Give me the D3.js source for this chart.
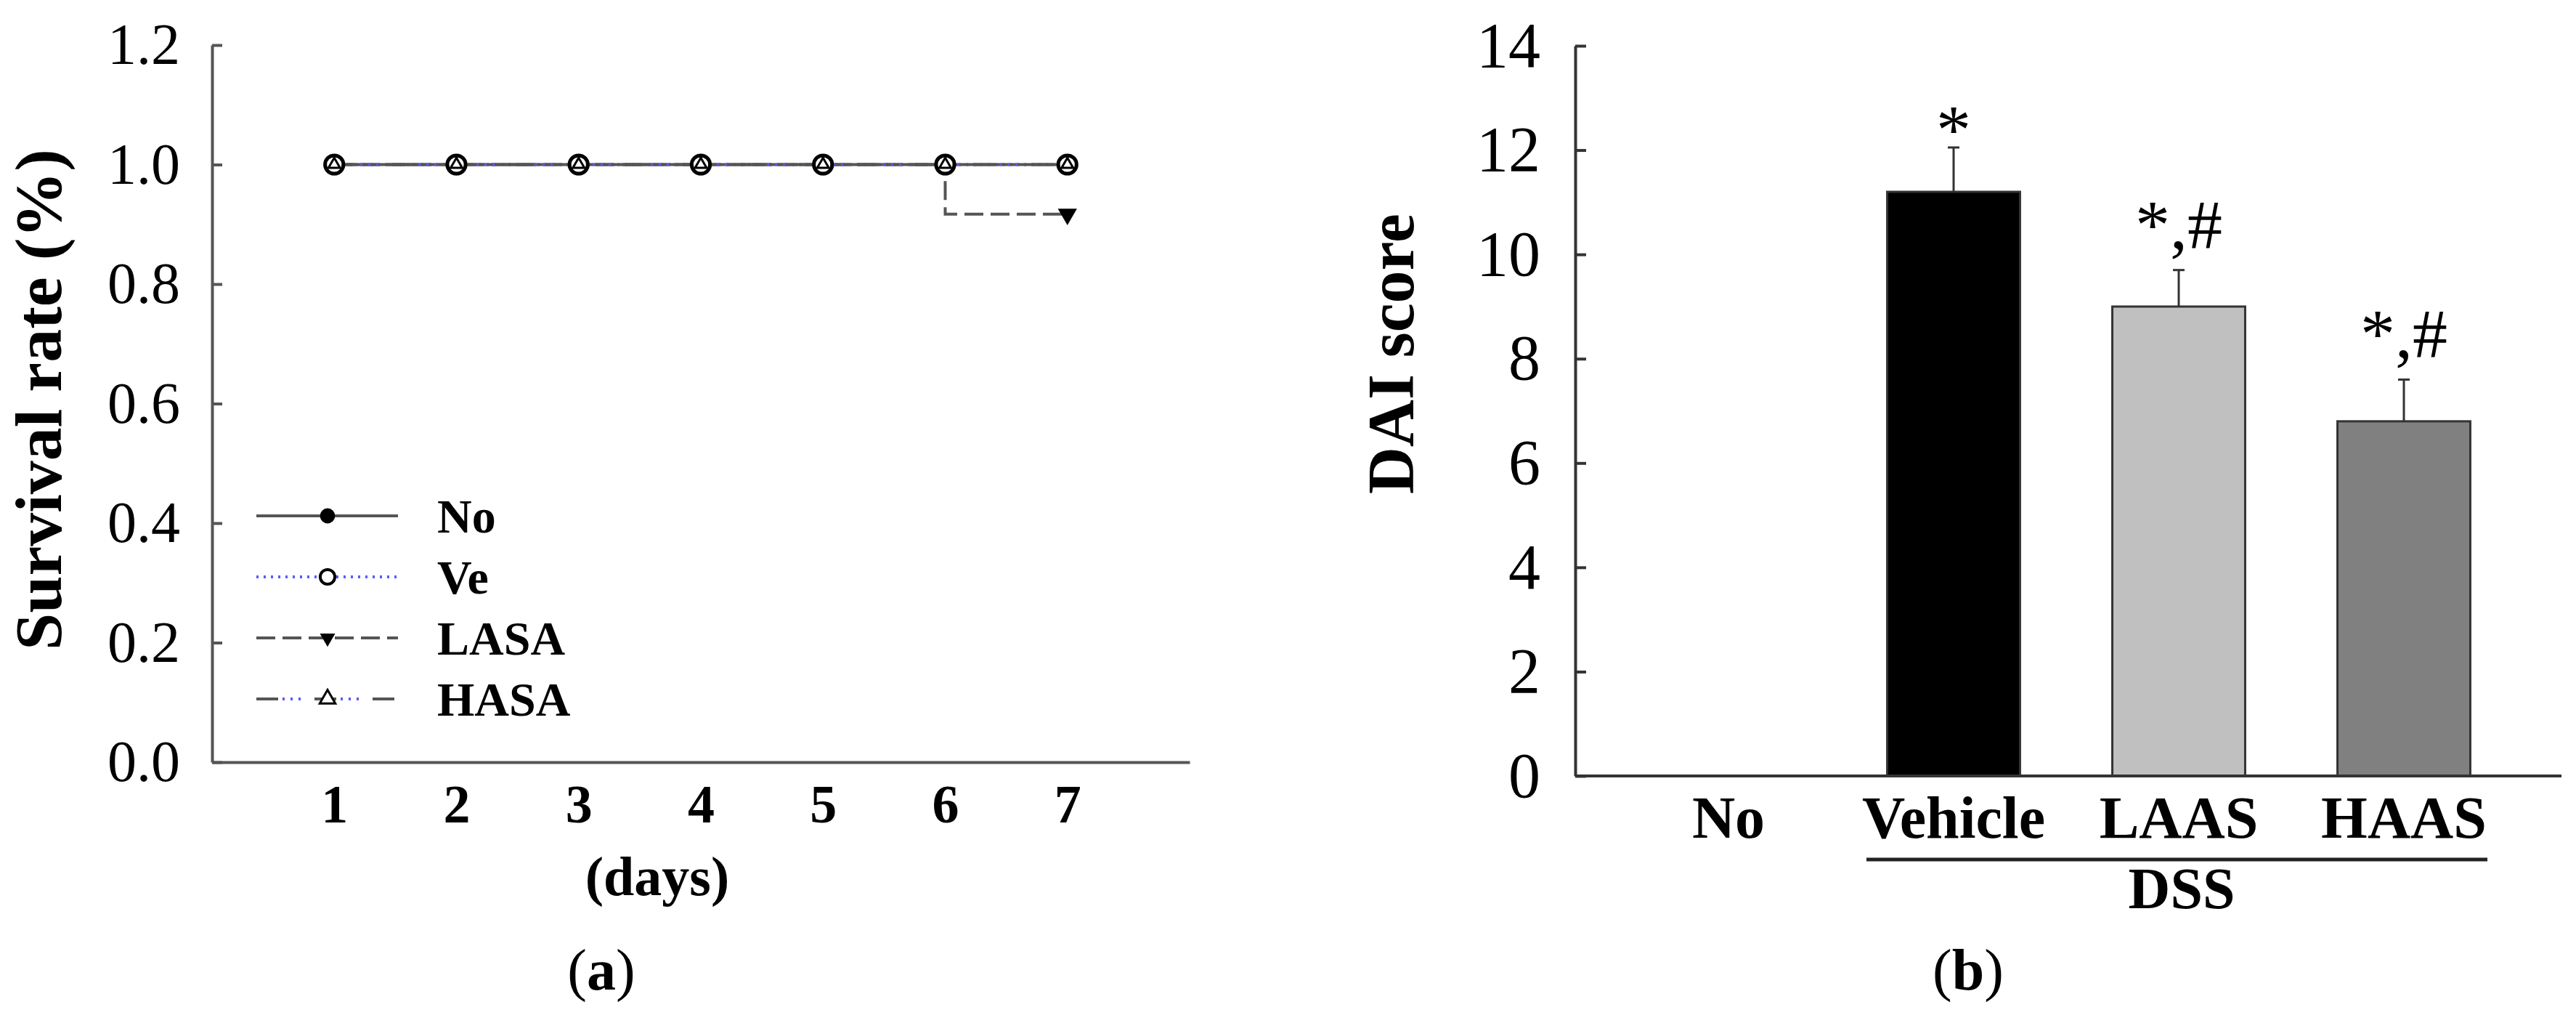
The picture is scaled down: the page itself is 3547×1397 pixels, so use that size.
<!DOCTYPE html>
<html>
<head>
<meta charset="utf-8">
<script src="https://cdn.jsdelivr.net/npm/d3@7"></script>
<style>
  body { margin: 0; background: #fff; }
  svg { display: block; font-family: "Liberation Serif", "Times New Roman", serif; }
</style>
</head>
<body>
<svg id="chart" width="3547" height="1397"></svg>
<script>
// panel (a) data: survival rate by day
var days = [1, 2, 3, 4, 5, 6, 7];
var seriesNames = ["No", "Ve", "LASA", "HASA"];
var noRate = [1, 1, 1, 1, 1, 1, 1];
var veRate = [1, 1, 1, 1, 1, 1, 1];
var lasaRate = [1, 1, 1, 1, 1, 1, 0.917];
var hasaRate = [1, 1, 1, 1, 1, 1, 1];
var rateTicks = [0, 0.2, 0.4, 0.6, 0.8, 1.0, 1.2];

// panel (b) data: DAI score
var groups = ["No", "Vehicle", "LAAS", "HAAS"];
var daiMean = [0, 11.2, 9.0, 6.8];
var daiErr = [0, 0.85, 0.7, 0.8];
var daiMarks = ["", "*", "*,#", "*,#"];
var daiTicks = [0, 2, 4, 6, 8, 10, 12, 14];

const svg = d3.select("#chart");
svg.append("rect").attr("width", 3547).attr("height", 1397).attr("fill", "#fff");

// ---------- panel (a) ----------
var xA = d3.scaleLinear().domain([0, 8]).range([292, 1638]);
var yA = d3.scaleLinear().domain([0, 1.2]).range([1049, 62]);

var yAxisA = svg.append("g")
  .attr("transform", "translate(" + xA(0) + ",0)")
  .call(d3.axisLeft(yA).tickValues(rateTicks).tickFormat(d3.format(".1f"))
        .tickSizeInner(-14).tickSizeOuter(0).tickPadding(44));
yAxisA.selectAll("path, line").attr("stroke", "#555").attr("stroke-width", 4);
yAxisA.selectAll("text").attr("font-size", 80).attr("font-family", "Liberation Serif").attr("fill", "#000");

var xAxisA = svg.append("g")
  .attr("transform", "translate(0," + yA(0) + ")")
  .call(d3.axisBottom(xA).tickValues(days).tickSize(0).tickPadding(30));
xAxisA.select(".domain").attr("stroke", "#555").attr("stroke-width", 4);
xAxisA.selectAll("text").attr("font-size", 74).attr("font-weight", "bold")
  .attr("font-family", "Liberation Serif").attr("fill", "#000");

svg.append("text")
  .attr("transform", "translate(84,550) rotate(-90)")
  .attr("text-anchor", "middle")
  .attr("font-size", 92).attr("font-weight", "bold")
  .text("Survival rate (%)");

svg.append("text")
  .attr("x", 905).attr("y", 1232)
  .attr("text-anchor", "middle")
  .attr("font-size", 76).attr("font-weight", "bold")
  .text("(days)");

var rates = [noRate, veRate, lasaRate, hasaRate];
var series = seriesNames.map(function(name, i) {
  return { name: name, values: days.map(function(d, j) { return { day: d, rate: rates[i][j] }; }) };
});

var line = d3.line()
  .x(function(d) { return xA(d.day); })
  .y(function(d) { return yA(d.rate); })
  .curve(d3.curveStepBefore);

// line styles: each entry is a list of stroke layers
var styles = {
  No:   [{ stroke: "#555", dash: null, off: 0 }],
  Ve:   [{ stroke: "#5a5aff", dash: "3,7", off: 0 }],
  LASA: [{ stroke: "#555", dash: "26,10", off: 0 }],
  HASA: [{ stroke: "#555", dash: "30,50", off: 0 },
         { stroke: "#5a5aff", dash: "3,8,3,8,3,55", off: 44 }]
};
var drawOrder = ["Ve", "No", "LASA", "HASA"];

function strokePath(g, d, name) {
  styles[name].forEach(function(s) {
    g.append("path").attr("d", d).attr("fill", "none")
      .attr("stroke", s.stroke).attr("stroke-width", 4)
      .attr("stroke-dasharray", s.dash).attr("stroke-dashoffset", s.off);
  });
}

var linesG = svg.append("g");
drawOrder.forEach(function(name) {
  var s = series.find(function(d) { return d.name === name; });
  strokePath(linesG, line(s.values), name);
});

function marker(g, name, x, y, big) {
  var k = big ? 1 : 0.8;
  if (name === "No") {
    g.append("path").attr("d", d3.symbol(d3.symbolCircle, 530 * k * k)())
      .attr("transform", "translate(" + x + "," + y + ")").attr("fill", "#000");
  } else if (name === "Ve") {
    g.append("path").attr("d", d3.symbol(d3.symbolCircle, 500 * k * k)())
      .attr("transform", "translate(" + x + "," + y + ")")
      .attr("fill", "#fff").attr("stroke", "#000").attr("stroke-width", big ? 5 : 4);
  } else if (name === "LASA") {
    g.append("path").attr("d", d3.symbol(d3.symbolTriangle, 300 * k * k)())
      .attr("transform", "translate(" + x + "," + y + ") rotate(180)").attr("fill", "#000");
  } else {
    g.append("path").attr("d", d3.symbol(d3.symbolTriangle, big ? 110 : 200)())
      .attr("transform", "translate(" + x + "," + y + ")")
      .attr("fill", "#fff").attr("stroke", "#000").attr("stroke-width", 3);
  }
}

var markG = svg.append("g");
["No", "LASA", "Ve", "HASA"].forEach(function(name) {
  var s = series.find(function(d) { return d.name === name; });
  s.values.forEach(function(d) { marker(markG, name, xA(d.day), yA(d.rate), true); });
});

// legend
var legY = d3.scalePoint().domain(seriesNames).range([710, 962]);
var legG = svg.append("g");
seriesNames.forEach(function(name) {
  var y = legY(name);
  strokePath(legG, "M353," + y + "H548", name);
  marker(legG, name, 451, y, false);
  legG.append("text").attr("x", 602).attr("y", y).attr("dy", "0.35em")
    .attr("font-size", 66).attr("font-weight", "bold").text(name);
});

// ---------- panel (b) ----------
var xB = d3.scaleBand().domain(groups).range([2225, 3465]).paddingInner(0.41).paddingOuter(0.205);
var yB = d3.scaleLinear().domain([0, 14]).range([1068, 63]);
var barFill = ["#fff", "#000", "#c0c0c0", "#808080"];

var yAxisB = svg.append("g")
  .attr("transform", "translate(2169,0)")
  .call(d3.axisLeft(yB).tickValues(daiTicks).tickFormat(d3.format("d"))
        .tickSizeInner(-15).tickSizeOuter(0).tickPadding(48));
yAxisB.selectAll("path, line").attr("stroke", "#333").attr("stroke-width", 4);
yAxisB.selectAll("text").attr("font-size", 88).attr("font-family", "Liberation Serif").attr("fill", "#000");

var bars = groups.map(function(g, i) {
  return { group: g, mean: daiMean[i], err: daiErr[i], mark: daiMarks[i], fill: barFill[i] };
}).filter(function(d) { return d.mean > 0; });

svg.append("g").selectAll("rect").data(bars).enter().append("rect")
  .attr("x", function(d) { return xB(d.group); })
  .attr("y", function(d) { return yB(d.mean); })
  .attr("width", xB.bandwidth())
  .attr("height", function(d) { return yB(0) - yB(d.mean); })
  .attr("fill", function(d) { return d.fill; })
  .attr("stroke", "#333").attr("stroke-width", 3);

var errG = svg.append("g").attr("stroke", "#333").attr("stroke-width", 3);
bars.forEach(function(d) {
  var cx = xB(d.group) + xB.bandwidth() / 2;
  errG.append("line").attr("x1", cx).attr("x2", cx)
    .attr("y1", yB(d.mean)).attr("y2", yB(d.mean + d.err));
  errG.append("line").attr("x1", cx - 8).attr("x2", cx + 8)
    .attr("y1", yB(d.mean + d.err)).attr("y2", yB(d.mean + d.err));
  svg.append("text")
    .attr("x", cx).attr("y", yB(d.mean + d.err) + (d.mark === "*" ? 8 : -30))
    .attr("text-anchor", "middle").attr("font-size", 96)
    .text(d.mark);
});

var xAxisB = svg.append("g")
  .attr("transform", "translate(0," + yB(0) + ")")
  .call(d3.axisBottom(xB).tickSize(0).tickPadding(27));
xAxisB.select(".domain").attr("d", "M2169,0H3527").attr("stroke", "#333").attr("stroke-width", 4);
xAxisB.selectAll("text").attr("font-size", 82).attr("font-weight", "bold")
  .attr("font-family", "Liberation Serif").attr("fill", "#000");

svg.append("line").attr("x1", 2570).attr("x2", 3425).attr("y1", 1183).attr("y2", 1183)
  .attr("stroke", "#222").attr("stroke-width", 5);
svg.append("text").attr("x", 3004).attr("y", 1250).attr("text-anchor", "middle")
  .attr("font-size", 80).attr("font-weight", "bold").text("DSS");

svg.append("text")
  .attr("transform", "translate(1946,487) rotate(-90)")
  .attr("text-anchor", "middle")
  .attr("font-size", 90).attr("font-weight", "bold")
  .text("DAI score");

// panel letters
[["a", 828], ["b", 2710]].forEach(function(p) {
  var t = svg.append("text").attr("x", p[1]).attr("y", 1362)
    .attr("text-anchor", "middle").attr("font-size", 80);
  t.append("tspan").text("(");
  t.append("tspan").attr("font-weight", "bold").text(p[0]);
  t.append("tspan").text(")");
});
</script>
</body>
</html>
